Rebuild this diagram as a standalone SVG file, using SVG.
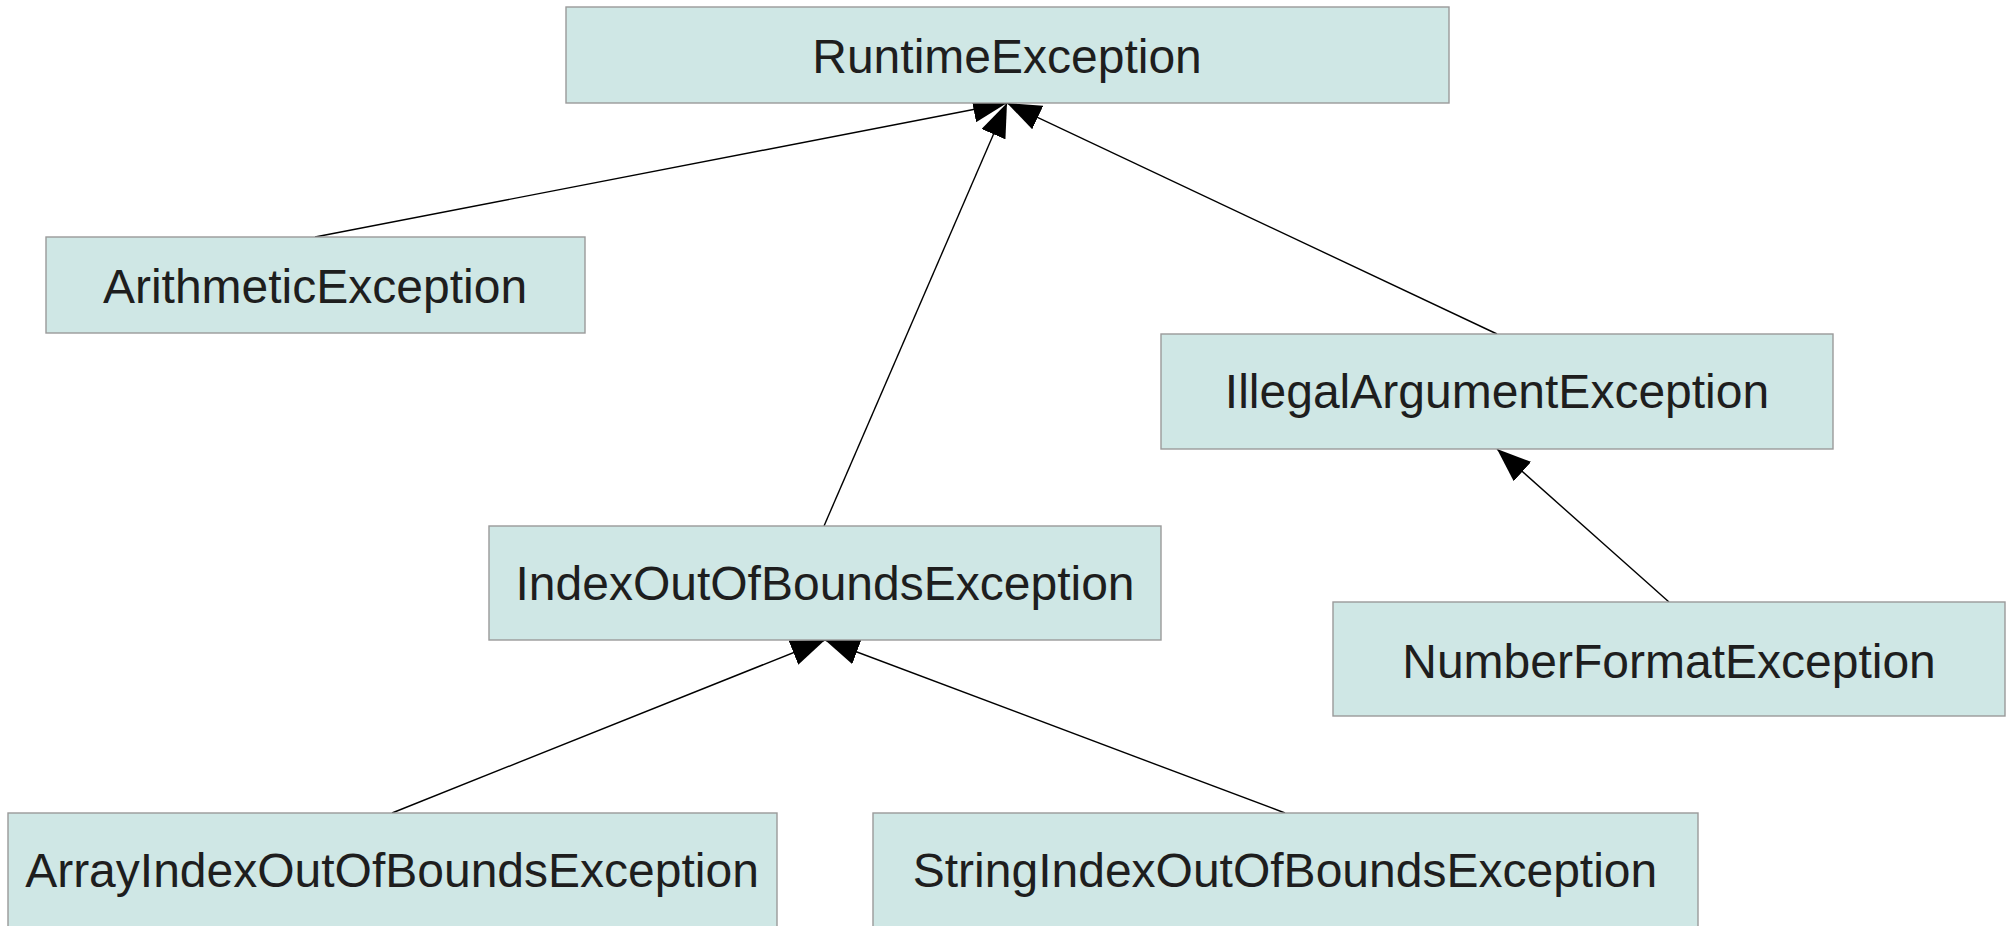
<svg xmlns="http://www.w3.org/2000/svg" width="2016" height="926" viewBox="0 0 2016 926">
  <style>
    .box { fill: #cfe7e5; stroke: #9a9a9a; stroke-width: 1.4; }
    .label { font-family: "Liberation Sans", Arial, sans-serif; font-size: 48px; fill: #1e1e1e; text-anchor: middle; }
    .edge { stroke: #000; stroke-width: 1.4; fill: none; marker-end: url(#inherit); }
  </style>
  <defs>
    <!-- filled triangle for generalisation arrows -->
    <marker id="inherit" markerUnits="userSpaceOnUse" markerWidth="34" markerHeight="26" refX="34" refY="13" orient="auto">
      <path d="M0,0 L34,13 L0,26 z" fill="#000"/>
    </marker>
  </defs>
  <rect width="2016" height="926" fill="#fff"/>

  <g id="connectors">
    <line class="edge" x1="315" y1="237" x2="1007" y2="103"/>
    <line class="edge" x1="824" y1="526" x2="1007" y2="103"/>
    <line class="edge" x1="1497" y1="334" x2="1007" y2="103"/>
    <line class="edge" x1="1669" y1="602" x2="1497" y2="449"/>
    <line class="edge" x1="392" y1="813" x2="825" y2="640"/>
    <line class="edge" x1="1285" y1="813" x2="825" y2="640"/>
  </g>

  <g id="RuntimeException">
    <rect class="box" x="566" y="7" width="883" height="96"/>
    <text class="label" x="1007" y="73">RuntimeException</text>
  </g>
  <g id="ArithmeticException">
    <rect class="box" x="46" y="237" width="539" height="96"/>
    <text class="label" x="315" y="303">ArithmeticException</text>
  </g>
  <g id="IllegalArgumentException">
    <rect class="box" x="1161" y="334" width="672" height="115"/>
    <text class="label" x="1497" y="408">IllegalArgumentException</text>
  </g>
  <g id="IndexOutOfBoundsException">
    <rect class="box" x="489" y="526" width="672" height="114"/>
    <text class="label" x="825" y="600">IndexOutOfBoundsException</text>
  </g>
  <g id="NumberFormatException">
    <rect class="box" x="1333" y="602" width="672" height="114"/>
    <text class="label" x="1669" y="678">NumberFormatException</text>
  </g>
  <g id="ArrayIndexOutOfBoundsException">
    <rect class="box" x="8" y="813" width="769" height="130"/>
    <text class="label" x="392" y="887">ArrayIndexOutOfBoundsException</text>
  </g>
  <g id="StringIndexOutOfBoundsException">
    <rect class="box" x="873" y="813" width="825" height="130"/>
    <text class="label" x="1285" y="887">StringIndexOutOfBoundsException</text>
  </g>
</svg>
